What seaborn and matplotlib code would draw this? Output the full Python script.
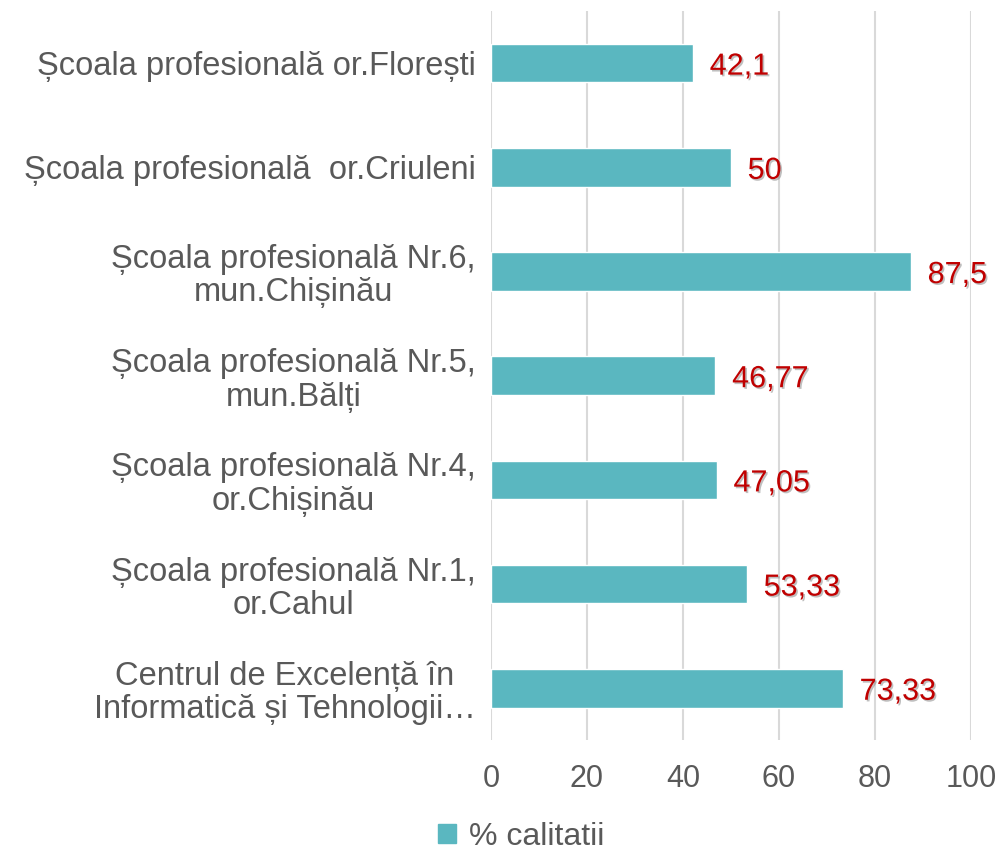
import matplotlib
matplotlib.use("Agg")
import matplotlib.pyplot as plt
import matplotlib.patheffects as pe
from matplotlib.patches import Patch
import seaborn as sns
import pandas as pd

# Date
categorii = [
    "Școala profesională or.Florești",
    "Școala profesională  or.Criuleni",
    "Școala profesională Nr.6,\nmun.Chișinău",
    "Școala profesională Nr.5,\nmun.Bălți",
    "Școala profesională Nr.4,\nor.Chișinău",
    "Școala profesională Nr.1,\nor.Cahul",
    "Centrul de Excelență în\nInformatică și Tehnologii…",
]
valori = [42.1, 50, 87.5, 46.77, 47.05, 53.33, 73.33]
etichete = ["42,1", "50", "87,5", "46,77", "47,05", "53,33", "73,33"]
serie = "% calitatii"

culoare_bara = "#5AB7C0"
culoare_text = "#595959"
culoare_valori = "#C00000"

sns.set_style("white")
plt.rcParams["font.family"] = ["Liberation Sans", "DejaVu Sans"]

df = pd.DataFrame({"categorie": categorii, "valoare": valori})

fig = plt.figure(figsize=(10.02, 8.51), dpi=100)
ax = fig.add_axes([0.49, 0.130, 0.479, 0.857])

sns.barplot(data=df, y="categorie", x="valoare", orient="h",
            color=culoare_bara, width=0.37, saturation=1, ax=ax)

ax.set_xlim(0, 100)
ax.set_xticks(range(0, 101, 20))
ax.xaxis.grid(True, color="#D9D9D9", linewidth=1.5)
ax.set_axisbelow(True)
for s in ax.spines.values():
    s.set_visible(False)
ax.set_xlabel("")
ax.set_ylabel("")
ax.tick_params(axis="both", length=0, colors=culoare_text)
ax.tick_params(axis="y", pad=11, labelsize=23.5)
ax.tick_params(axis="x", pad=17, labelsize=22)
for t in ax.get_yticklabels():
    t.set_multialignment("center")
    t.set_linespacing(1.1)

umbra = [pe.withSimplePatchShadow(offset=(1.2, -1.2), shadow_rgbFace="#808080", alpha=0.5)]
texte = ax.bar_label(ax.containers[0], labels=etichete, padding=12,
                     fontsize=22, color=culoare_valori)
for t in texte:
    t.set_path_effects(umbra)
    t.set_va("center_baseline")

fig.legend(handles=[Patch(color=culoare_bara)], labels=[serie],
           loc="center", bbox_to_anchor=(0.52, 0.017), frameon=False,
           borderpad=0, fontsize=23, labelcolor=culoare_text, handlelength=0.55,
           handleheight=0.55, handletextpad=0.4)

fig.savefig("out.png", dpi=100)
